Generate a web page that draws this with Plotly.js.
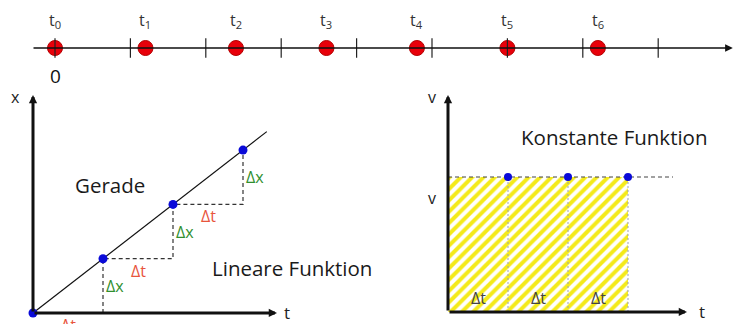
<!DOCTYPE html>
<html>
<head>
<meta charset="utf-8">
<script src="https://cdn.plot.ly/plotly-3.0.1.min.js"></script>
<style>
  html, body { margin: 0; padding: 0; background: #fff; }
</style>
</head>
<body>
<div id="chart" style="width:744px;height:324px"></div>
<script>
// timeline on top
const tickPos = [0, 1, 2, 3, 4, 5, 6, 7, 8];
const sampleT = [0, 1.2, 2.4, 3.6, 4.8, 6.0, 7.2];
const sampleLabels = ["t<sub>0</sub>", "t<sub>1</sub>", "t<sub>2</sub>", "t<sub>3</sub>",
                      "t<sub>4</sub>", "t<sub>5</sub>", "t<sub>6</sub>"];

// left: x over t (straight line)
const linT = [0, 1, 2, 3];
const linX = [0, 1, 2, 3];
const lineEnd = 3.34;

// right: v over t (constant)
const constT = [1, 2, 3];
const constV = [1, 1, 1];
const dashEnd = 3.75;

const FONT = "'Open Sans', Lato, sans-serif";
const RED = "#e8553d";
const GREEN = "#2f8f2f";
const BLUE = "#0a0ad8";

// staircase under the line
const stepT = [], stepX = [];
for (let i = 1; i < linT.length; i++) {
  stepT.push(linT[i], linT[i]);
  stepX.push(linX[i - 1], linX[i]);
}

const traces = [
  // red sample points
  {
    x: sampleT, y: sampleT.map(() => 0), xaxis: "x", yaxis: "y",
    type: "scatter", mode: "markers", hoverinfo: "skip", cliponaxis: false,
    marker: { size: 15, color: "#e8000a", line: { color: "#b40000", width: 1 } },
  },
  // tick marks crossing the timeline
  {
    x: tickPos, y: tickPos.map(() => 0), xaxis: "x", yaxis: "y",
    type: "scatter", mode: "markers", hoverinfo: "skip", cliponaxis: false,
    marker: { symbol: "line-ns-open", size: 14, color: "#222", line: { color: "#222", width: 1.2 } },
  },
  // straight line
  {
    x: [linT[0], lineEnd], y: [linX[0], lineEnd], xaxis: "x2", yaxis: "y2",
    type: "scatter", mode: "lines", hoverinfo: "skip",
    line: { color: "#111", width: 1.2 },
  },
  // dashed staircase
  {
    x: stepT, y: stepX, xaxis: "x2", yaxis: "y2",
    type: "scatter", mode: "lines", hoverinfo: "skip",
    line: { color: "#333", width: 1.2, dash: "4px,3px" },
  },
  {
    x: linT, y: linX, xaxis: "x2", yaxis: "y2",
    type: "scatter", mode: "markers", hoverinfo: "skip", cliponaxis: false,
    marker: { size: 9, color: BLUE },
  },
  // hatched area under v
  {
    x: constT.map((t) => t - 0.5), y: constV, width: constT.map(() => 1),
    xaxis: "x3", yaxis: "y3", type: "bar", hoverinfo: "skip",
    marker: {
      color: "white", line: { width: 0 },
      pattern: { shape: "/", fgcolor: "#f4ea1a", bgcolor: "white", size: 8, solidity: 0.5 },
    },
  },
  // dotted separators
  ...constT.map((t, i) => ({
    x: [t, t], y: [0, constV[i]], xaxis: "x3", yaxis: "y3",
    type: "scatter", mode: "lines", hoverinfo: "skip",
    line: { color: "#9aa2b2", width: 1, dash: "2px,2px" },
  })),
  {
    x: [0, dashEnd], y: [constV[0], constV[0]], xaxis: "x3", yaxis: "y3",
    type: "scatter", mode: "lines", hoverinfo: "skip",
    line: { color: "#444", width: 1.2, dash: "4px,3px" },
  },
  {
    x: constT, y: constV, xaxis: "x3", yaxis: "y3",
    type: "scatter", mode: "markers", hoverinfo: "skip", cliponaxis: false,
    marker: { size: 8, color: BLUE },
  },
];

function arrow(xref, yref, x0, y0, x1, y1, w, size) {
  return {
    xref: xref, yref: yref, axref: xref, ayref: yref,
    x: x1, y: y1, ax: x0, ay: y0, text: "",
    showarrow: true, arrowhead: 2, arrowsize: size, arrowwidth: w, arrowcolor: "#111",
    standoff: 0, startstandoff: 0,
  };
}

function label(xref, yref, x, y, text, size, color, extra) {
  return Object.assign({
    xref: xref, yref: yref, x: x, y: y, text: text, showarrow: false,
    font: { family: FONT, size: size, color: color },
  }, extra || {});
}

const annotations = [
  arrow("x", "y", -0.305, 0, 8.99, 0, 1.4, 1.1),
  arrow("x2", "y2", 0, 0, 0, 4.015, 3, 0.55),
  arrow("x2", "y2", 0, 0, 3.486, 0, 3, 0.55),
  arrow("x3", "y3", 0, 0, 0, 1.607, 3, 0.55),
  arrow("x3", "y3", 0, 0, 3.983, 0, 3, 0.55),
  ...sampleT.map((t, i) => label("x", "y", t, 0.7, sampleLabels[i], 16, "#333")),
  label("x", "y", 0, -0.7, "0", 19, "#111"),
  label("x2", "y2", -0.257, 3.98, "x", 16, "#222"),
  label("x2", "y2", 3.629, 0, "t", 17, "#222"),
  label("x2", "y2", 1.1, 2.357, "Gerade", 20.5, "#1a1a1a"),
  label("x2", "y2", 3.7, 0.829, "Lineare Funktion", 20.5, "#1a1a1a"),
  label("x3", "y3", -0.267, 1.593, "v", 16, "#222"),
  label("x3", "y3", 4.233, 0, "t", 17, "#222"),
  label("x3", "y3", -0.267, 0.844, "v", 16, "#222"),
  label("x3", "y3", 2.783, 1.296, "Konstante Funktion", 20.5, "#1a1a1a"),
];

// Δx / Δt beside the staircase
for (let i = 1; i < linT.length; i++) {
  annotations.push(label("x2", "y2", linT[i], (linX[i - 1] + linX[i]) / 2, "Δx", 16, GREEN,
    { xanchor: "left", xshift: 1 }));
}
for (let i = 0; i < linT.length - 1; i++) {
  annotations.push(label("x2", "y2", (linT[i] + linT[i + 1]) / 2, linX[i], "Δt", 16, RED,
    { yanchor: "top", yshift: 1 }));
}
constT.forEach((t) => {
  annotations.push(label("x3", "y3", t - 0.5, 0.104, "Δt", 16, "#444"));
});

const hidden = { visible: false, fixedrange: true };

const layout = {
  width: 744,
  height: 324,
  margin: { l: 0, r: 0, t: 0, b: 0, pad: 0 },
  paper_bgcolor: "white",
  plot_bgcolor: "rgba(0,0,0,0)",
  showlegend: false,
  bargap: 0,
  font: { family: FONT },
  xaxis: Object.assign({ domain: [0, 1], range: [-0.7294, 9.138] }, hidden),
  yaxis: Object.assign({ domain: [0.7284, 0.9753], range: [-1, 1] }, hidden),
  xaxis2: Object.assign({ domain: [0, 0.5], range: [-0.4714, 4.8429] }, hidden),
  yaxis2: Object.assign({ domain: [0, 0.7377], range: [-0.2026, 4.199] }, hidden),
  xaxis3: Object.assign({ domain: [0.5, 1], range: [-1.2667, 4.9333] }, hidden),
  yaxis3: Object.assign({ domain: [0, 0.7377], range: [-0.0889, 1.6815] }, hidden),
  annotations: annotations,
};

Plotly.newPlot("chart", traces, layout, { staticPlot: true, displayModeBar: false });
</script>
</body>
</html>
